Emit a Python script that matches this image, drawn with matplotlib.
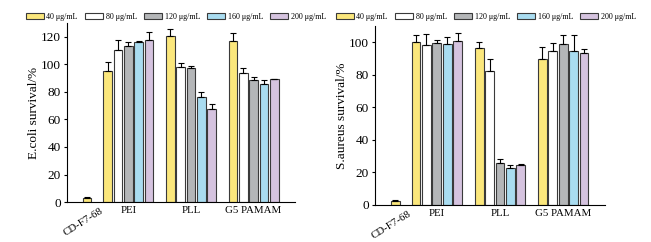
import matplotlib
matplotlib.use('Agg')
import matplotlib.pyplot as plt
import matplotlib.transforms as mtransforms
import numpy as np

plt.rcParams['font.family'] = ['Liberation Serif', 'DejaVu Serif']

# concentrations (legend) and groups
concLabels = ['40 μg/mL', '80 μg/mL', '120 μg/mL', '160 μg/mL', '200 μg/mL']
concColors = ['#fbe77c', '#ffffff', '#b4b6b8', '#a9dcf0', '#d5c3df']
groups = ['PEI', 'PLL', 'G5 PAMAM']
cdLabel = 'CD-F7-68'

# E.coli survival (%), rows = concentrations, cols = groups
ecoliMean = [[95.5, 120.5, 117.0],
             [110.5, 98.0, 93.4],
             [113.5, 97.0, 88.3],
             [116.5, 76.0, 85.4],
             [118.0, 67.3, 89.0]]
ecoliErr = [[6.5, 5.0, 5.5],
            [7.0, 2.7, 3.6],
            [2.5, 1.7, 2.2],
            [0.7, 3.6, 3.1],
            [5.5, 3.7, 0.5]]
ecoliCd = 3.0
ecoliCdErr = 0.4

# S.aureus survival (%)
saurMean = [[100.0, 96.4, 89.6],
            [98.6, 82.5, 94.8],
            [99.9, 26.0, 99.3],
            [98.9, 23.0, 94.8],
            [101.1, 24.4, 93.4]]
saurErr = [[4.4, 4.1, 7.8],
           [6.6, 7.5, 4.7],
           [1.6, 2.1, 5.1],
           [4.7, 1.4, 10.0],
           [4.5, 0.6, 2.8]]
saurCd = 2.5
saurCdErr = 0.3


def drawPanel(fig, rect, means, errs, cdVal, cdErr, ylabel, ylim, yticks, legendCenter):
    ax = fig.add_axes(rect)
    groupPos = np.arange(1, len(groups) + 1)
    step = 0.165
    width = 0.14
    edge = '#3a3a3a'
    for i in range(len(concLabels)):
        xs = groupPos + (i - 2) * step
        m = np.array(means[i])
        e = np.array(errs[i])
        ax.bar(xs, m, width=width, color=concColors[i], edgecolor=edge,
               linewidth=0.8, label=concLabels[i], zorder=2)
        ax.errorbar(xs, m, yerr=[np.zeros_like(e), e], fmt='none', ecolor='black',
                    elinewidth=0.8, capsize=2, capthick=0.8, zorder=3)
    cdPos = 0.34
    ax.bar([cdPos], [cdVal], width=width, color=concColors[0], edgecolor=edge,
           linewidth=0.8, zorder=2)
    ax.errorbar([cdPos], [cdVal], yerr=[[0], [cdErr]], fmt='none', ecolor='black',
                elinewidth=0.8, capsize=2, capthick=0.8, zorder=3)

    ax.set_xlim(0.02, 3.66)
    ax.set_ylim(*ylim)
    ax.set_yticks(yticks)
    ax.set_xticks([cdPos] + list(groupPos))
    ax.set_xticklabels([cdLabel] + groups, fontsize=7.8)
    ax.tick_params(axis='x', length=0, pad=3)
    ax.tick_params(axis='y', direction='out', length=2.5, labelsize=9.5, pad=2)
    for s in ['top', 'right']:
        ax.spines[s].set_visible(False)
    for s in ['left', 'bottom']:
        ax.spines[s].set_linewidth(0.8)

    # rotated label for the single CD-F7-68 bar, nudged right like the original
    cdTick = ax.get_xticklabels()[0]
    cdTick.set_rotation(32)
    cdTick.set_ha('right')
    cdTick.set_rotation_mode('anchor')
    cdTick.set_transform(cdTick.get_transform() +
                         mtransforms.ScaledTranslation(0.13, 0.0, fig.dpi_scale_trans))

    ax.set_ylabel(ylabel, fontsize=9.5, labelpad=0.5)

    handles, labels = ax.get_legend_handles_labels()
    fig.legend(handles, labels, loc='center', bbox_to_anchor=legendCenter, ncol=5,
               frameon=False, fontsize=5.8, handlelength=2.2, handleheight=0.75,
               handletextpad=0.35, columnspacing=0.9, borderaxespad=0)
    return ax


fig = plt.figure(figsize=(6.51, 2.42), dpi=100)
drawPanel(fig, [0.103, 0.165, 0.350, 0.740], ecoliMean, ecoliErr, ecoliCd, ecoliCdErr,
          'E.coli survival/%', (0, 130), [0, 20, 40, 60, 80, 100, 120], (176 / 651, 1 - 17 / 242))
drawPanel(fig, [0.576, 0.153, 0.353, 0.739], saurMean, saurErr, saurCd, saurCdErr,
          'S.aureus survival/%', (0, 110), [0, 20, 40, 60, 80, 100], (486 / 651, 1 - 17 / 242))

fig.savefig('out.png', dpi=100)
